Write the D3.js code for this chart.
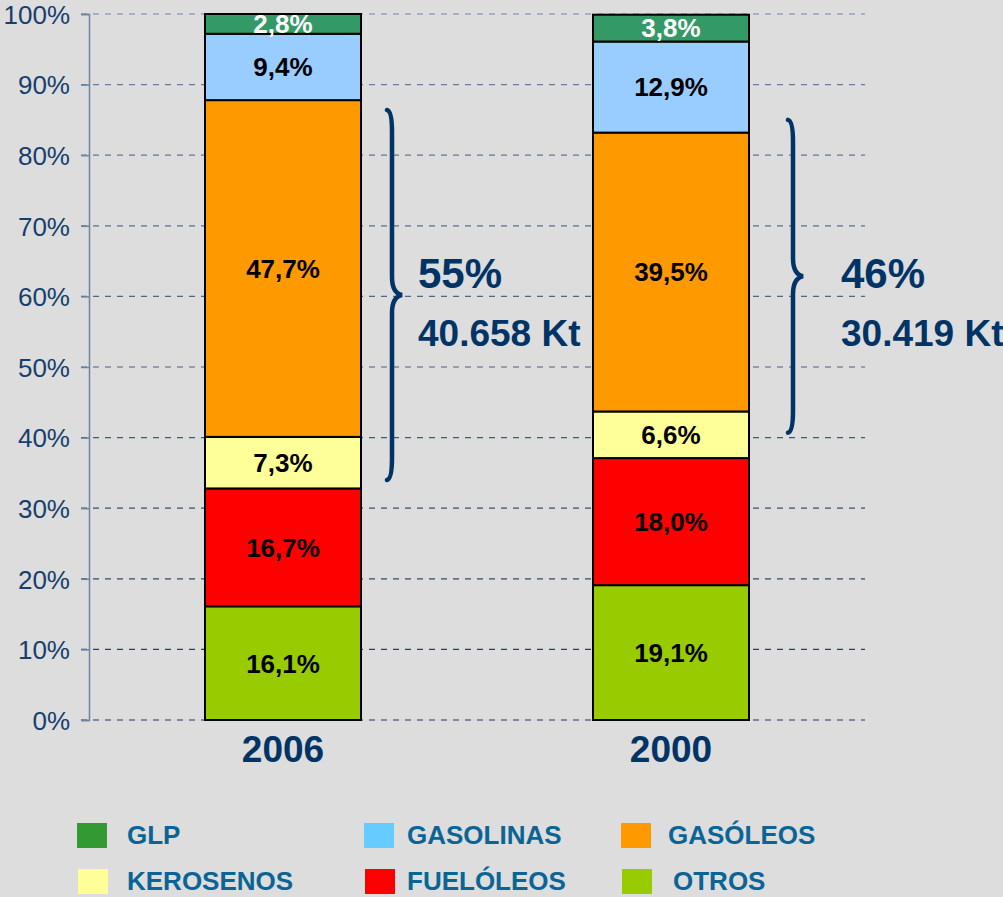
<!DOCTYPE html>
<html>
<head>
<meta charset="utf-8">
<script src="https://cdn.jsdelivr.net/npm/d3@7"></script>
<style>
  body { margin: 0; background: #dddddd; }
  svg { display: block; font-family: "Liberation Sans", Arial, sans-serif; }
</style>
</head>
<body>
<div id="chart"></div>
<script>
var width = 1003;
var height = 897;

// data
var years = ["2006", "2000"];
var series = ["OTROS", "FUELÓLEOS", "KEROSENOS", "GASÓLEOS", "GASOLINAS", "GLP"];
var values2006 = [16.1, 16.7, 7.3, 47.7, 9.4, 2.8];
var values2000 = [19.1, 18.0, 6.6, 39.5, 12.9, 3.8];
var barColors = ["#99cc00", "#ff0000", "#ffff99", "#ff9900", "#99ccff", "#339966"];
var legendColors = ["#99cc00", "#ff0000", "#ffff99", "#ff9900", "#66ccff", "#339933"];
var legendOrder = ["GLP", "GASOLINAS", "GASÓLEOS", "KEROSENOS", "FUELÓLEOS", "OTROS"];
var braceShares = ["55%", "46%"];
var braceTonnes = ["40.658 Kt", "30.419 Kt"];
var braceTop = [86.4, 85.0];
var braceBottom = [34.0, 40.7];
var yTicks = [0, 10, 20, 30, 40, 50, 60, 70, 80, 90, 100];

var svg = d3.select("#chart")
  .append("svg")
    .attr("width", width)
    .attr("height", height)

var y = d3.scaleLinear().domain([0, 100]).range([720, 14]);
var x = d3.scalePoint().domain(years).range([89, 865]).padding(0.5);
var barW = 156;

// gridlines
svg.selectAll("line.grid")
  .data(yTicks)
  .enter()
    .append("line")
      .attr("x1", 81)
      .attr("x2", 865)
      .attr("y1", function (d) { return y(d); })
      .attr("y2", function (d) { return y(d); })
      .attr("stroke", function (d) { return d3.interpolateRgb("#1c3a62", "#7088a6")(d / 100); })
      .attr("stroke-width", 1.2)
      .attr("stroke-dasharray", "6,6")

// y axis
var yAxis = d3.axisLeft(y).tickValues(yTicks).tickSize(8).tickPadding(11)
  .tickFormat(function (d) { return d + "%"; });
var ax = svg.append("g").attr("transform", "translate(89,0)").call(yAxis);
ax.select(".domain").attr("stroke", "#6d84a0").attr("stroke-width", 1.5);
ax.selectAll(".tick line").attr("stroke", "#6d84a0").attr("stroke-width", 1.5);
ax.selectAll(".tick text")
  .attr("fill", "#173f6e")
  .style("font-size", "26px")
  .attr("dy", "0.36em")

// stacked bars
var rows = years.map(function (yr, i) {
  var vals = i == 0 ? values2006 : values2000;
  var o = {year: yr};
  series.forEach(function (s, j) { o[s] = vals[j]; });
  return o;
});
var stack = d3.stack().keys(series)(rows);

stack.forEach(function (layer, j) {
  var g = svg.append("g");
  g.selectAll("rect")
    .data(layer)
    .enter()
      .append("rect")
        .attr("x", function (d) { return x(d.data.year) - barW / 2; })
        .attr("y", function (d) { return y(d[1]); })
        .attr("width", barW)
        .attr("height", function (d) { return y(d[0]) - y(d[1]); })
        .attr("fill", barColors[j])
        .attr("stroke", "#000")
        .attr("stroke-width", 2)
  g.selectAll("text")
    .data(layer)
    .enter()
      .append("text")
        .attr("x", function (d) { return x(d.data.year); })
        .attr("y", function (d) { return (y(d[0]) + y(d[1])) / 2; })
        .attr("dy", "0.36em")
        .attr("text-anchor", "middle")
        .attr("fill", series[j] == "GLP" ? "#ffffff" : "#000000")
        .style("font-size", "26px")
        .style("font-weight", "bold")
        .text(function (d) { return (d[1] - d[0]).toFixed(1).replace(".", ",") + "%"; })
});

// year labels
svg.selectAll("text.year")
  .data(years)
  .enter()
    .append("text")
      .attr("x", function (d) { return x(d); })
      .attr("y", 762)
      .attr("text-anchor", "middle")
      .attr("fill", "#003366")
      .style("font-size", "37px")
      .style("font-weight", "bold")
      .text(function (d) { return d; })

// braces around gasoleos + kerosenos
var braceGap = [31, 44];
var textGap = [26, 48];
years.forEach(function (yr, i) {
  var top = y(braceTop[i]), bot = y(braceBottom[i]);
  var bx = x(yr) + barW / 2 + braceGap[i];
  var mid = (top + bot) / 2;
  var tip = bx + 10;
  var p = "M" + (bx - 5) + "," + top +
    " Q" + bx + "," + (top + 1) + " " + bx + "," + (top + 22) +
    " L" + bx + "," + (mid - 18) +
    " Q" + bx + "," + (mid - 2) + " " + tip + "," + mid +
    " Q" + bx + "," + (mid + 2) + " " + bx + "," + (mid + 18) +
    " L" + bx + "," + (bot - 22) +
    " Q" + bx + "," + (bot - 1) + " " + (bx - 5) + "," + bot;
  svg.append("path")
    .attr("d", p)
    .attr("fill", "none")
    .attr("stroke", "#003366")
    .attr("stroke-width", 4.5)
    .attr("stroke-linecap", "round")
  svg.append("text")
    .attr("x", bx + textGap[i])
    .attr("y", 288)
    .attr("fill", "#003366")
    .style("font-size", "42px")
    .style("font-weight", "bold")
    .text(braceShares[i])
  svg.append("text")
    .attr("x", bx + textGap[i])
    .attr("y", 346)
    .attr("fill", "#003366")
    .style("font-size", "37px")
    .style("font-weight", "bold")
    .text(braceTonnes[i])
});

// legend
var colX = [77, 364, 621];
var textX = [127, 407, 668];
var legend = svg.selectAll("g.legend")
  .data(legendOrder)
  .enter()
    .append("g")
      .attr("transform", function (d, i) { return "translate(0," + (823 + Math.floor(i / 3) * 46) + ")"; })
legend.append("rect")
  .attr("x", function (d, i) { return colX[i % 3] + (i >= 3 ? 1 : 0); })
  .attr("width", 30)
  .attr("height", 25)
  .attr("fill", function (d) { return legendColors[series.indexOf(d)]; })
legend.append("text")
  .attr("x", function (d, i) { return textX[i % 3] + (d == "OTROS" ? 5 : 0); })
  .attr("y", 21)
  .attr("fill", "#0a6496")
  .style("font-size", "26px")
  .style("font-weight", "bold")
  .text(function (d) { return d; })
</script>
</body>
</html>
